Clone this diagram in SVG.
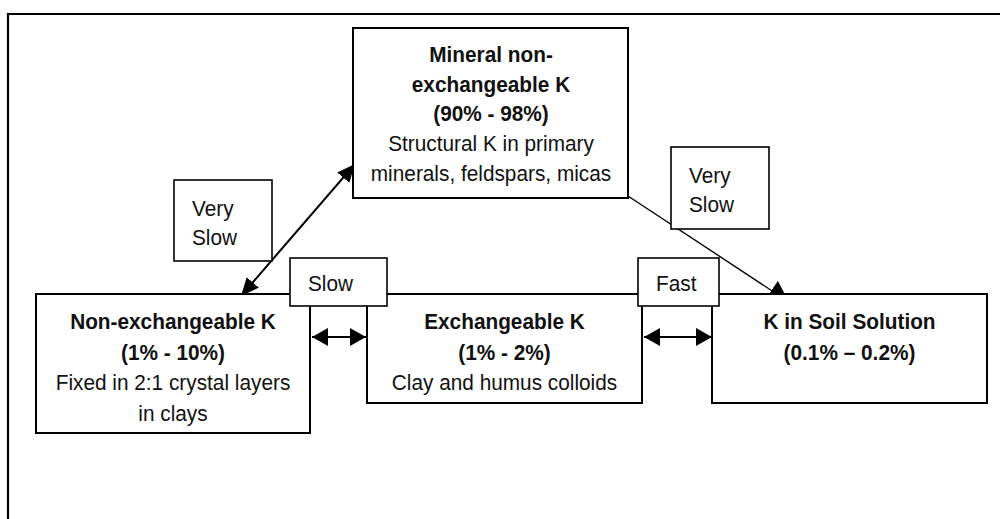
<svg xmlns="http://www.w3.org/2000/svg" width="1000" height="519" viewBox="0 0 1000 519">
<style>
  .box { fill: #fff; stroke: #000; stroke-width: 2; }
  .lbl { fill: #fff; stroke: #000; stroke-width: 1.6; }
  text { font-family: "Liberation Sans", Arial, sans-serif; font-size: 22.5px; fill: #111; }
  .b { font-weight: bold; }
  .c { text-anchor: middle; }
  .ln { stroke: #000; fill: none; }
</style>
<defs>
  <marker id="ah" viewBox="0 0 18 16" refX="18" refY="8" markerWidth="18" markerHeight="16" markerUnits="userSpaceOnUse" orient="auto-start-reverse">
    <path d="M0,0 L18,8 L0,16 Z" fill="#000"/>
  </marker>
  <marker id="ahh" viewBox="0 0 16 18" refX="16" refY="9" markerWidth="16" markerHeight="18" markerUnits="userSpaceOnUse" orient="auto-start-reverse">
    <path d="M0,0 L16,9 L0,18 Z" fill="#000"/>
  </marker>
  <marker id="ahb" viewBox="0 0 21 23" refX="21" refY="11.5" markerWidth="21" markerHeight="23" markerUnits="userSpaceOnUse" orient="auto">
    <path d="M0,0 L21,11.5 L0,23 Z" fill="#000"/>
  </marker>
</defs>
<path d="M8,519 L8,14 L1000,14" fill="none" stroke="#000" stroke-width="2.2"/>
<g id="connectors">
  <line class="ln" x1="241" y1="296" x2="355" y2="164" stroke-width="2" marker-start="url(#ah)" marker-end="url(#ah)"/>
  <line class="ln" x1="628" y1="196" x2="789" y2="302" stroke-width="1.4" marker-end="url(#ahb)"/>
  <line class="ln" x1="312" y1="337" x2="366" y2="337" stroke-width="2" marker-start="url(#ahh)" marker-end="url(#ahh)"/>
  <line class="ln" x1="644" y1="337" x2="712" y2="337" stroke-width="2" marker-start="url(#ahh)" marker-end="url(#ahh)"/>
</g>
<g id="node-mineral">
  <rect class="box" x="353" y="28" width="275" height="170"/>
  <g transform="scale(0.925 1)">
    <text class="b c" x="530.81" y="62">Mineral non-</text>
    <text class="b c" x="530.81" y="92">exchangeable K</text>
    <text class="b c" x="530.81" y="121">(90% - 98%)</text>
    <text class="c" x="530.81" y="151">Structural K in primary</text>
    <text class="c" x="530.81" y="181">minerals, feldspars, micas</text>
  </g>
</g>
<g id="node-nonexch">
  <rect class="box" x="36" y="294" width="274" height="139"/>
  <g transform="scale(0.925 1)">
    <text class="b c" x="187.03" y="329">Non-exchangeable K</text>
    <text class="b c" x="187.03" y="360">(1% - 10%)</text>
    <text class="c" x="187.03" y="390">Fixed in 2:1 crystal layers</text>
    <text class="c" x="187.03" y="421">in clays</text>
  </g>
</g>
<g id="node-exch">
  <rect class="box" x="367" y="294" width="275" height="109"/>
  <g transform="scale(0.925 1)">
    <text class="b c" x="545.41" y="329">Exchangeable K</text>
    <text class="b c" x="545.41" y="360">(1% - 2%)</text>
    <text class="c" x="545.41" y="390">Clay and humus colloids</text>
  </g>
</g>
<g id="node-solution">
  <rect class="box" x="712" y="294" width="275" height="109"/>
  <g transform="scale(0.925 1)">
    <text class="b c" x="918.38" y="329">K in Soil Solution</text>
    <text class="b c" x="918.38" y="360">(0.1% – 0.2%)</text>
  </g>
</g>
<g id="label-veryslow-left">
  <rect class="lbl" x="174" y="180" width="98" height="81"/>
  <g transform="scale(0.925 1)">
    <text x="207.57" y="216">Very</text>
    <text x="207.57" y="245">Slow</text>
  </g>
</g>
<g id="label-veryslow-right">
  <rect class="lbl" x="671" y="147" width="98" height="82"/>
  <g transform="scale(0.925 1)">
    <text x="744.86" y="183">Very</text>
    <text x="744.86" y="212">Slow</text>
  </g>
</g>
<g id="label-slow">
  <rect class="lbl" x="290" y="258" width="97" height="48"/>
  <g transform="scale(0.925 1)">
    <text x="332.97" y="291">Slow</text>
  </g>
</g>
<g id="label-fast">
  <rect class="lbl" x="638" y="258" width="81" height="48"/>
  <g transform="scale(0.925 1)">
    <text x="709.19" y="291">Fast</text>
  </g>
</g>
</svg>
